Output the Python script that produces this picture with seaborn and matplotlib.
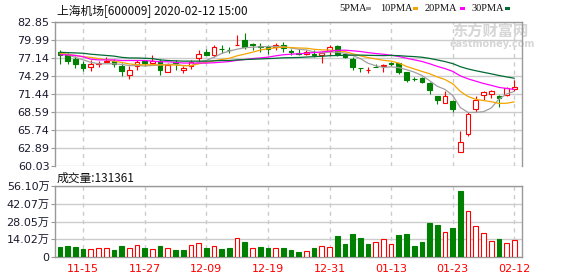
import numpy as np
import pandas as pd
import matplotlib
matplotlib.use("Agg")
import matplotlib.pyplot as plt
import seaborn as sns
from matplotlib.patches import Rectangle

# ---------------- data ----------------
dates = ["11-12", "11-13", "11-14", "11-15", "11-18", "11-19", "11-20", "11-21", "11-22",
         "11-25", "11-26", "11-27", "11-28", "11-29", "12-02", "12-03", "12-04", "12-05",
         "12-06", "12-09", "12-10", "12-11", "12-12", "12-13", "12-16", "12-17", "12-18",
         "12-19", "12-20", "12-23", "12-24", "12-25", "12-26", "12-27", "12-30", "12-31",
         "01-02", "01-03", "01-06", "01-07", "01-08", "01-09", "01-10", "01-13", "01-14",
         "01-15", "01-16", "01-17", "01-20", "01-21", "01-22", "01-23", "02-03", "02-04",
         "02-05", "02-06", "02-07", "02-10", "02-11", "02-12"]
tick_dates = ["11-15", "11-27", "12-09", "12-19", "12-31", "01-13", "01-23", "02-12"]

open_ = [78.1, 77.6, 77.0, 76.2, 75.73, 76.15, 76.4, 76.57, 75.9, 74.45,
         75.9, 76.57, 76.3, 76.67, 74.9, 76.46, 75.15, 75.9, 77.1, 78.05,
         77.5, 78.55, 78.4, 79.2, 80.0, 79.25, 79.0, 78.8, 78.8, 79.1,
         78.15, 77.85, 77.7, 77.8, 77.5, 78.26, 79.0, 77.8, 77.0, 75.5,
         75.2, 75.75, 75.8, 76.25, 76.25, 74.8, 73.8, 74.0, 73.1, 71.1,
         69.9, 70.3, 62.15, 65.0, 68.96, 71.24, 71.34, 71.07, 71.24, 72.13]
close = [77.6, 76.67, 76.2, 75.5, 76.15, 76.36, 76.7, 76.2, 75.0, 75.2,
         76.46, 76.3, 76.57, 75.25, 76.0, 76.25, 75.5, 76.4, 77.8, 77.6,
         78.8, 78.5, 78.35, 79.2, 78.8, 79.2, 78.8, 78.6, 79.2, 78.7,
         78.1, 77.8, 78.1, 77.5, 77.9, 78.9, 77.7, 77.3, 75.7, 75.45,
         75.2, 75.7, 75.95, 76.2, 74.8, 73.6, 73.75, 73.35, 72.0, 70.4,
         71.1, 68.97, 63.73, 68.17, 70.44, 71.66, 71.87, 70.7, 72.3, 72.45]
high = [78.4, 77.9, 77.4, 76.57, 76.8, 76.7, 77.2, 77.0, 76.3, 75.8,
        76.8, 76.8, 77.5, 77.0, 76.35, 76.8, 75.8, 76.8, 78.3, 78.6,
        79.2, 79.1, 78.8, 80.8, 81.05, 79.5, 79.5, 79.1, 79.5, 79.7,
        78.6, 78.6, 78.4, 78.3, 78.1, 79.2, 79.2, 77.9, 77.3, 75.5,
        75.6, 76.2, 76.2, 76.5, 76.3, 74.8, 74.1, 74.1, 73.35, 71.1,
        71.8, 70.45, 65.6, 68.6, 71.1, 71.87, 72.0, 71.2, 72.55, 73.6]
low = [76.2, 76.15, 75.5, 75.0, 75.0, 75.7, 76.4, 75.6, 74.2, 73.7,
       75.25, 75.9, 76.15, 74.35, 74.9, 75.2, 74.7, 75.4, 76.7, 77.5,
       77.2, 77.9, 77.9, 79.2, 78.6, 78.4, 78.05, 77.8, 78.3, 78.05,
       77.6, 77.6, 77.6, 77.3, 76.25, 77.6, 77.4, 77.15, 75.2, 74.9,
       74.7, 75.6, 74.9, 75.8, 74.55, 73.35, 73.5, 73.2, 71.4, 69.8,
       69.9, 68.6, 62.15, 64.7, 68.6, 70.44, 70.8, 69.4, 71.07, 71.9]

ma5 = [77.9, 77.6, 77.2, 76.8, 76.42, 76.18, 76.18, 76.18, 76.08, 75.89,
       75.91, 75.83, 75.91, 75.96, 76.12, 76.07, 75.91, 75.88, 76.39, 76.71,
       77.22, 77.82, 78.21, 78.49, 78.73, 78.81, 78.87, 78.92, 78.92, 78.9,
       78.68, 78.48, 78.38, 78.04, 77.88, 78.04, 78.02, 77.86, 77.5, 77.01,
       76.27, 75.87, 75.6, 75.7, 75.57, 75.25, 74.86, 74.34, 73.5, 72.62,
       72.12, 71.16, 69.24, 68.47, 68.48, 68.59, 69.17, 70.57, 71.39, 71.8]
ma10 = [77.8, 77.7, 77.5, 77.3, 77.2, 77.0, 76.8, 76.6, 76.4, 76.16,
        76.04, 76.01, 76.04, 76.02, 76.0, 75.99, 75.87, 75.89, 76.17, 76.41,
        76.65, 76.87, 77.05, 77.44, 77.72, 78.02, 78.35, 78.57, 78.71, 78.82,
        78.75, 78.68, 78.65, 78.48, 78.39, 78.36, 78.25, 78.12, 77.77, 77.45,
        77.16, 76.95, 76.73, 76.6, 76.29, 75.76, 75.37, 74.97, 74.6, 74.1,
        73.69, 73.01, 71.79, 70.99, 70.55, 70.36, 70.17, 69.9, 69.93, 70.14]
ma20 = [77.6, 77.6, 77.5, 77.3, 76.9, 76.8, 76.8, 76.8, 76.7, 76.7,
        76.7, 76.7, 76.6, 76.5, 76.5, 76.4, 76.3, 76.3, 76.3, 76.29,
        76.35, 76.44, 76.54, 76.73, 76.86, 77.0, 77.11, 77.23, 77.44, 77.61,
        77.7, 77.77, 77.85, 77.96, 78.06, 78.19, 78.3, 78.34, 78.24, 78.13,
        77.95, 77.81, 77.69, 77.54, 77.34, 77.06, 76.81, 76.55, 76.19, 75.77,
        75.42, 74.98, 74.26, 73.79, 73.42, 73.06, 72.77, 72.44, 72.27, 72.12]
ma30 = [78.0, 77.95, 77.9, 77.85, 77.7, 77.6, 77.5, 77.4, 77.2, 77.1,
        77.1, 77.05, 77.0, 76.8, 76.7, 76.65, 76.6, 76.6, 76.6, 76.6,
        76.65, 76.7, 76.7, 76.8, 76.85, 76.9, 76.95, 77.0, 77.05, 77.13,
        77.15, 77.18, 77.25, 77.31, 77.37, 77.46, 77.49, 77.53, 77.55, 77.56,
        77.52, 77.5, 77.48, 77.51, 77.47, 77.38, 77.32, 77.22, 77.03, 76.79,
        76.53, 76.21, 75.72, 75.36, 75.08, 74.83, 74.59, 74.33, 74.1, 73.89]

volume_wan = [8.1, 8.9, 8.1, 6.3, 6.3, 7.1, 7.1, 5.8, 8.9, 7.1,
              9.4, 7.4, 6.3, 8.6, 7.1, 5.5, 5.8, 9.4, 11.0, 7.1,
              8.6, 6.6, 7.4, 14.8, 12.1, 7.1, 8.1, 7.4, 7.1, 7.1,
              5.5, 4.2, 4.7, 7.0, 8.4, 7.6, 16.7, 10.3, 18.3, 15.1,
              10.3, 11.9, 14.0, 10.3, 17.5, 18.3, 8.7, 11.9, 27.0, 25.4,
              19.8, 23.0, 52.5, 36.3, 24.4, 18.8, 12.4, 14.0, 10.8, 13.14]
volume_dir = ["d", "d", "d", "d", "u", "u", "u", "d", "d", "u",
              "u", "d", "u", "d", "u", "d", "d", "u", "u", "d",
              "u", "d", "d", "u", "d", "u", "d", "d", "u", "d",
              "d", "d", "u", "d", "u", "u", "d", "d", "d", "d",
              "d", "u", "u", "u", "d", "d", "d", "d", "d", "d",
              "u", "d", "d", "u", "u", "u", "u", "d", "u", "u"]

price_ticks = [60.03, 62.89, 65.74, 68.59, 71.44, 74.29, 77.14, 79.99, 82.85]
vol_ticks = [0, 14.02, 28.05, 42.07, 56.10]
vol_tick_labels = ["0", "14.02万", "28.05万", "42.07万", "56.10万"]

title = "上海机场[600009] 2020-02-12 15:00"
vol_title = "成交量:131361"
ma_names = ["5PMA", "10PMA", "20PMA", "30PMA"]

# ---------------- style ----------------
RED = "#ff0000"
GREEN = "#008000"
MA_COLORS = ["#a0a0a0", "#f5a400", "#ff00ff", "#006b33"]
SPINE = "#999999"
GRID = "#cccccc"

sns.set_theme(style="white")
plt.rcParams["font.family"] = ["DejaVu Sans", "Noto Sans CJK SC"]

W, H = 578, 276
fig = plt.figure(figsize=(W / 100, H / 100), dpi=100)
fig.patch.set_facecolor("white")


def fx(px):
    return px / W


def fy(py):
    return 1 - py / H


L, R = 55, 522
ax = fig.add_axes([fx(L), fy(165.7), fx(R) - fx(L), fy(21.7) - fy(165.7)])
axv = fig.add_axes([fx(L), fy(256.9), fx(R) - fx(L), fy(186.4) - fy(256.9)])

df = pd.DataFrame({"date": dates, "open": open_, "close": close, "high": high, "low": low,
                   "ma5": ma5, "ma10": ma10, "ma20": ma20, "ma30": ma30,
                   "vol": volume_wan, "vdir": volume_dir})
df["x"] = np.arange(len(df))
tick_pos = [dates.index(d) for d in tick_dates]

# ---------------- price panel ----------------
up = df["close"] >= df["open"]
ccol = np.where(up, RED, GREEN)
ax.vlines(df["x"], df["low"], df["high"], colors=ccol, lw=0.8, zorder=3)
ax.bar(df["x"], (df["close"] - df["open"]).abs(),
       bottom=np.minimum(df["open"], df["close"]), width=0.62,
       color=np.where(up, "white", GREEN), edgecolor=ccol, linewidth=0.8, zorder=4)

for col, c in zip(["ma5", "ma10", "ma20", "ma30"], MA_COLORS):
    sns.lineplot(data=df, x="x", y=col, ax=ax, color=c, lw=0.9, zorder=5, legend=False)

ax.set_xlim(-0.65, len(df))
ax.set_ylim(price_ticks[0], price_ticks[-1])
ax.set_yticks(price_ticks)
ax.set_yticklabels([f"{t:.2f}" for t in price_ticks])
ax.set_xticks(tick_pos)
ax.set_xticklabels([])
ax.set_xlabel("")
ax.set_ylabel("")
ax.grid(axis="y", color=GRID, lw=1, ls="-")
ax.grid(axis="x", color=GRID, lw=1, ls=(0, (3, 3)))
ax.set_axisbelow(True)
ax.tick_params(axis="x", length=0)
ax.tick_params(axis="y", direction="out", length=3, width=0.8, color=SPINE,
               labelsize=8, labelcolor="#1a1a2e", pad=1, left=True)
for s in ["left", "top", "right"]:
    ax.spines[s].set_color(SPINE)
    ax.spines[s].set_linewidth(1)
ax.spines["bottom"].set_visible(False)

# watermark
ax.text(fx(452), fy(31), "东方财富网", transform=fig.transFigure, color="#d6d6d6",
        fontsize=11, fontweight="bold", va="center", ha="left",
        family=["Noto Sans CJK SC"], zorder=1)
ax.text(fx(450), fy(44.5), "eastmoney.com", transform=fig.transFigure, color="#d6d6d6",
        fontsize=7, fontweight="bold", va="center", ha="left", zorder=1)

# ---------------- volume panel ----------------
vup = df["vdir"] == "u"
vcol = np.where(vup, RED, GREEN)
axv.bar(df["x"], df["vol"], width=0.6, color=np.where(vup, "white", GREEN),
        edgecolor=vcol, linewidth=0.8, zorder=3)
axv.set_xlim(-0.65, len(df))
axv.set_ylim(0, vol_ticks[-1])
axv.set_yticks(vol_ticks)
axv.set_yticklabels(vol_tick_labels)
axv.set_xticks(tick_pos)
axv.set_xticklabels(tick_dates)
axv.set_xlabel("")
axv.set_ylabel("")
axv.grid(axis="y", color=GRID, lw=1, ls="-")
axv.grid(axis="x", color=GRID, lw=1, ls=(0, (3, 3)))
axv.set_axisbelow(True)
axv.tick_params(axis="x", length=0, labelsize=8, labelcolor=RED, pad=5)
axv.tick_params(axis="y", direction="out", length=3, width=0.8, color=SPINE,
                labelsize=8, labelcolor="#1a1a2e", pad=1, left=True)
for s in ["left", "top", "right", "bottom"]:
    axv.spines[s].set_color(SPINE)
    axv.spines[s].set_linewidth(1)

# ---------------- header texts ----------------
fig.text(fx(57), fy(11), title, fontsize=8.5, va="center", ha="left",
         color="#111111", family=["Noto Sans CJK SC"])
fig.text(fx(57), fy(178), vol_title, fontsize=8.5, va="center", ha="left",
         color="#111111", family=["Noto Sans CJK SC"])

leg_x = [339, 380, 425, 471]
sq_x = [366, 413, 460, 505]
for name, c, tx, sx in zip(ma_names, MA_COLORS, leg_x, sq_x):
    fig.text(fx(tx), fy(8.5), name, fontsize=7.5, va="center", ha="left",
             color="#111111", family=["Liberation Serif"])
    fig.patches.append(Rectangle((fx(sx), fy(10)), 5 / W, 3 / H, transform=fig.transFigure,
                                 facecolor=c, edgecolor="none"))

fig.savefig("out.png", dpi=100, facecolor="white")
